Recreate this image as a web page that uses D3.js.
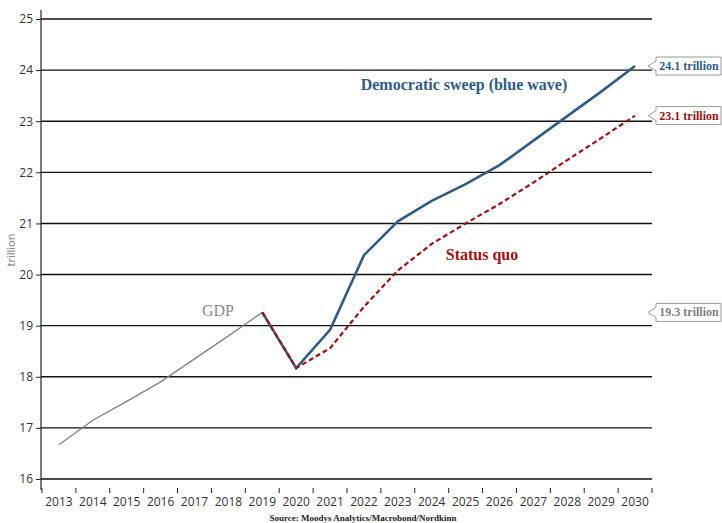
<!DOCTYPE html>
<html>
<head>
<meta charset="utf-8">
<script src="https://cdn.jsdelivr.net/npm/d3@7"></script>
<style>
  body { margin: 0; background: #fff; }
  svg { display: block; }
  .tick text { font-family: "Open Sans", "Noto Sans", sans-serif; font-size: 12px; fill: #333; }
  .serif { font-family: "Liberation Serif", "DejaVu Serif", serif; }
</style>
</head>
<body>
<script>
(function(){

var years = [2013, 2014, 2015, 2016, 2017, 2018, 2019, 2020, 2021, 2022, 2023, 2024, 2025, 2026, 2027, 2028, 2029, 2030];
var yTicks = [16, 17, 18, 19, 20, 21, 22, 23, 24, 25];

// history
var gdpYears = [2013, 2014, 2015, 2016, 2017, 2018, 2019];
var gdpValues = [16.67, 17.15, 17.52, 17.9, 18.35, 18.8, 19.26];

// scenarios
var scenYears = [2019, 2020, 2021, 2022, 2023, 2024, 2025, 2026, 2027, 2028, 2029, 2030];
var blueWave = [19.26, 18.17, 18.92, 20.38, 21.04, 21.44, 21.77, 22.14, 22.62, 23.1, 23.58, 24.08];
var statusQuo = [19.26, 18.17, 18.56, 19.37, 20.08, 20.6, 21.0, 21.38, 21.8, 22.24, 22.67, 23.11];

var callouts = [
    {value: 24.08, label: "24.1 trillion", color: "#2f5b86"},
    {value: 23.11, label: "23.1 trillion", color: "#a01010"},
    {value: 19.26, label: "19.3 trillion", color: "#7f7f7f"}
];

var width = 722, height = 523;

var svg = d3.select("body")
    .append("svg")
    .attr("width", width)
    .attr("height", height);

var x = d3.scaleBand()
    .domain(years)
    .range([42, 652]);

var y = d3.scaleLinear()
    .domain([16, 25])
    .range([479, 19]);

function cx(yr){ return x(yr) + x.bandwidth() / 2; }

// title (cut off by the top edge in the original)
svg.append("text")
    .attr("class", "serif")
    .attr("x", 363)
    .attr("y", -2)
    .attr("text-anchor", "middle")
    .style("font-size", "17px")
    .style("font-weight", "bold")
    .style("fill", "#a9c4de")
    .text("US GDP under two election scenarios");

//horizontal grid lines
svg.selectAll(".grid")
    .data(yTicks)
    .enter()
    .append("line")
    .attr("class", "grid")
    .attr("x1", 41)
    .attr("x2", 652)
    .attr("y1", function(d){ return y(d); })
    .attr("y2", function(d){ return y(d); })
    .style("stroke", "#111")
    .style("stroke-width", 1.4);

//y axis
var yAxis = d3.axisLeft(y)
    .tickValues(yTicks)
    .tickSize(5)
    .tickPadding(3);

var gy = svg.append("g")
    .attr("transform", "translate(41,0)")
    .call(yAxis);
gy.select(".domain").remove();
gy.selectAll(".tick line").style("stroke", "#222");

svg.append("line")
    .attr("x1", 41).attr("x2", 41)
    .attr("y1", 10).attr("y2", 490)
    .style("stroke", "#222")
    .style("stroke-width", 1.2);

//x axis - labels in the middle of bands, ticks at band edges
var xAxis = d3.axisBottom(x)
    .tickSize(0)
    .tickPadding(9);

var gx = svg.append("g")
    .attr("transform", "translate(0,488)")
    .call(xAxis);
gx.select(".domain").remove();

var edges = years.map(function(d){ return x(d); }).concat([x.range()[1]]);
svg.selectAll(".xtick")
    .data(edges)
    .enter()
    .append("line")
    .attr("class", "xtick")
    .attr("x1", function(d){ return d; })
    .attr("x2", function(d){ return d; })
    .attr("y1", 488)
    .attr("y2", 493)
    .style("stroke", "#222");

//y axis title
svg.append("text")
    .attr("transform", "translate(15,250) rotate(-90)")
    .attr("text-anchor", "middle")
    .style("font-family", "'Open Sans', 'Noto Sans', sans-serif")
    .style("font-size", "11px")
    .style("fill", "#777")
    .text("trillion");

//lines
function makeLine(yrs){
    return d3.line()
        .x(function(d, i){ return cx(yrs[i]); })
        .y(function(d){ return y(d); });
}

svg.append("path")
    .datum(gdpValues)
    .attr("d", makeLine(gdpYears))
    .style("fill", "none")
    .style("stroke", "#808080")
    .style("stroke-width", 1.3);

svg.append("path")
    .datum(blueWave)
    .attr("d", makeLine(scenYears))
    .style("fill", "none")
    .style("stroke", "#2f5b86")
    .style("stroke-width", 2.6);

svg.append("path")
    .datum(statusQuo)
    .attr("d", makeLine(scenYears))
    .style("fill", "none")
    .style("stroke", "#a01010")
    .style("stroke-width", 2.2)
    .style("stroke-dasharray", "5,3");

//series labels
svg.append("text")
    .attr("class", "serif")
    .attr("x", 464).attr("y", 90)
    .attr("text-anchor", "middle")
    .style("font-size", "16px")
    .style("font-weight", "bold")
    .style("fill", "#2f5b86")
    .text("Democratic sweep (blue wave)");

svg.append("text")
    .attr("class", "serif")
    .attr("x", 482).attr("y", 260)
    .attr("text-anchor", "middle")
    .style("font-size", "16px")
    .style("font-weight", "bold")
    .style("fill", "#a01010")
    .text("Status quo");

svg.append("text")
    .attr("class", "serif")
    .attr("x", 218).attr("y", 316)
    .attr("text-anchor", "middle")
    .style("font-size", "16px")
    .style("fill", "#8a8a8a")
    .text("GDP");

//value callouts at the right edge
var co = svg.selectAll(".callout")
    .data(callouts)
    .enter()
    .append("g")
    .attr("class", "callout")
    .attr("transform", function(d){ return "translate(648," + y(d.value) + ")"; });

co.append("path")
    .attr("d", "M0,0 L8,-5 L8,-9 L73,-9 L73,9 L8,9 L8,5 Z")
    .style("fill", "#fff")
    .style("stroke", "#9a9a9a")
    .style("stroke-width", 1);

co.append("text")
    .attr("class", "serif")
    .attr("x", 41).attr("y", 4)
    .attr("text-anchor", "middle")
    .style("font-size", "12px")
    .style("font-weight", "bold")
    .style("fill", function(d){ return d.color; })
    .text(function(d){ return d.label; });

//source
svg.append("text")
    .attr("class", "serif")
    .attr("x", 363).attr("y", 521)
    .attr("text-anchor", "middle")
    .style("font-size", "9px")
    .style("font-weight", "bold")
    .style("fill", "#222")
    .text("Source: Moodys Analytics/Macrobond/Nordkinn");

})();
</script>
</body>
</html>
